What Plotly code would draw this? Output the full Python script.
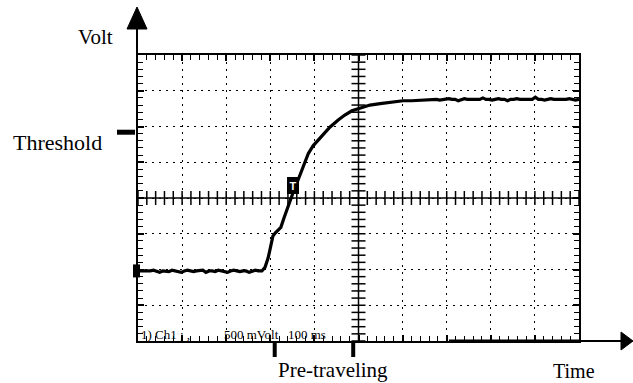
import plotly.graph_objects as go

# ---- data (time in ms, voltage in V relative to screen centre) ----
base_t = [0, 7, 14, 21, 28, 35, 42, 49, 56, 63, 70, 77, 84, 91, 98, 105, 112, 119, 126, 133,
          140, 147, 154, 161, 168, 175, 182, 189, 196, 203, 210, 217, 224, 231, 238, 245, 252,
          259, 266, 273, 281]
base_v = [-1.02, -1.02, -1.03, -1.02, -1.02, -1.01, -1.02, -1.04, -1.02, -1.02, -1.03, -1.01,
          -1.02, -1.02, -1.04, -1.02, -1.01, -1.02, -1.03, -1.02, -1.02, -1.01, -1.04, -1.02,
          -1.02, -1.03, -1.01, -1.02, -1.02, -1.04, -1.02, -1.01, -1.02, -1.03, -1.02, -1.02,
          -1.04, -1.02, -1.01, -1.02, -1.02]
rise_t = [288, 295, 299, 306, 311, 318, 324, 331, 338, 345, 352, 361, 367, 376, 386, 397,
          408, 422, 435, 454, 469, 485, 503, 526, 549, 576, 601, 620, 640, 662]
rise_v = [-0.97, -0.84, -0.73, -0.53, -0.49, -0.45, -0.41, -0.28, -0.15, -0.03, 0.08, 0.22,
          0.31, 0.46, 0.62, 0.73, 0.81, 0.91, 0.99, 1.09, 1.16, 1.22, 1.26, 1.30, 1.32, 1.34,
          1.36, 1.36, 1.37, 1.37]
plat_t = [670, 677, 684, 691, 698, 705, 712, 719, 726, 733, 740, 747, 754, 761, 768, 775,
          782, 789, 796, 803, 810, 817, 824, 831, 838, 845, 852, 859, 866, 873, 880, 887,
          894, 901, 908, 915, 922, 929, 936, 943, 950, 957, 964, 971, 978, 985, 992, 1000]
plat_v = [1.38, 1.38, 1.37, 1.38, 1.38, 1.39, 1.38, 1.38, 1.36, 1.38, 1.39, 1.38, 1.38,
          1.37, 1.38, 1.38, 1.40, 1.38, 1.38, 1.37, 1.38, 1.39, 1.38, 1.38, 1.36, 1.38,
          1.38, 1.39, 1.38, 1.38, 1.38, 1.37, 1.38, 1.41, 1.38, 1.38, 1.37, 1.38, 1.39,
          1.38, 1.38, 1.37, 1.38, 1.38, 1.39, 1.38, 1.37, 1.38]

trig_t, trig_v = 351, 0.18          # "T" trigger marker
threshold_v = 0.92                  # threshold level
baseline_v = -1.02                  # channel ground marker
pretravel_t = [310, 488]            # pre-traveling interval marks
x_range = [0, 1000]
y_range = [-2, 2]
x_div, y_div = 100, 0.5
x_minor, y_minor = 20, 0.1
scope_labels = ["1) Ch1 ; ,", "500 mVolt", "100 ms"]
scope_label_px = [139, 222, 286]

t = base_t + rise_t + plat_t
v = base_v + rise_v + plat_v

W, H = 633, 383
ML, MR, MT, MB = 138, 54, 55, 42
PW, PH = W - ML - MR, H - MT - MB


def px_x(px):  # pixel -> paper
    return (px - ML) / PW


def px_y(py):
    return (H - MB - py) / PH


def dx_paper(tv):
    return (tv - x_range[0]) / (x_range[1] - x_range[0])


def dy_paper(vv):
    return (vv - y_range[0]) / (y_range[1] - y_range[0])


fig = go.Figure()

# centre cross ticks
xc = (x_range[0] + x_range[1]) / 2
yc = (y_range[0] + y_range[1]) / 2
nx = int(round((x_range[1] - x_range[0]) / x_minor))
ny = int(round((y_range[1] - y_range[0]) / y_minor))
fig.add_trace(go.Scatter(x=[x_range[0] + i * x_minor for i in range(nx + 1)], y=[yc] * (nx + 1),
                         mode="markers", hoverinfo="skip",
                         marker=dict(symbol="line-ns", size=10, line=dict(width=1.5, color="black"))))
fig.add_trace(go.Scatter(x=[xc] * (ny + 1), y=[y_range[0] + i * y_minor for i in range(ny + 1)],
                         mode="markers", hoverinfo="skip",
                         marker=dict(symbol="line-ew", size=10, line=dict(width=1.5, color="black"))))

# signal
fig.add_trace(go.Scatter(x=t, y=v, mode="lines", line=dict(color="black", width=3.2),
                         hoverinfo="skip"))

shapes = []
# centre lines
shapes.append(dict(type="line", xref="x", yref="paper", x0=xc, x1=xc, y0=0, y1=1,
                   line=dict(color="black", width=1.5)))
shapes.append(dict(type="line", xref="paper", yref="y", x0=0, x1=1, y0=yc, y1=yc,
                   line=dict(color="black", width=1.5)))
# vertical axis arrow
shapes.append(dict(type="line", xref="paper", yref="paper", x0=px_x(137), x1=px_x(137),
                   y0=1, y1=px_y(27), line=dict(color="black", width=2)))
shapes.append(dict(type="path", xref="paper", yref="paper",
                   path=f"M {px_x(137)},{px_y(7)} L {px_x(127)},{px_y(29)} L {px_x(147)},{px_y(29)} Z",
                   fillcolor="black", line=dict(color="black", width=1)))
# horizontal axis arrow
shapes.append(dict(type="line", xref="paper", yref="paper", x0=1, x1=px_x(624),
                   y0=0, y1=0, line=dict(color="black", width=2)))
shapes.append(dict(type="path", xref="paper", yref="paper",
                   path=f"M {px_x(633)},{px_y(341)} L {px_x(621)},{px_y(332)} L {px_x(621)},{px_y(350)} Z",
                   fillcolor="black", line=dict(color="black", width=1)))
# thicker bottom segment
shapes.append(dict(type="line", xref="paper", yref="paper", x0=dx_paper(705), x1=1,
                   y0=0, y1=0, line=dict(color="black", width=3)))
# threshold dash
shapes.append(dict(type="rect", xref="paper", yref="paper",
                   x0=px_x(117), x1=px_x(135),
                   y0=dy_paper(threshold_v) - 2.5 / PH, y1=dy_paper(threshold_v) + 2.5 / PH,
                   fillcolor="black", line=dict(width=0)))
# channel ground marker
shapes.append(dict(type="rect", xref="paper", yref="paper",
                   x0=px_x(133), x1=px_x(140),
                   y0=dy_paper(baseline_v) - 6.5 / PH, y1=dy_paper(baseline_v) + 6.5 / PH,
                   fillcolor="black", line=dict(width=0)))
# pre-traveling marks
for pt in pretravel_t:
    shapes.append(dict(type="rect", xref="paper", yref="paper",
                       x0=dx_paper(pt) - 2 / PW, x1=dx_paper(pt) + 2 / PW,
                       y0=px_y(357), y1=0,
                       fillcolor="black", line=dict(width=0)))

serif = "Liberation Serif"
annotations = [
    dict(text="Volt", xref="paper", yref="paper", x=px_x(95), y=px_y(37),
         xanchor="center", yanchor="middle", showarrow=False,
         font=dict(family=serif, size=21, color="black")),
    dict(text="Threshold", xref="paper", yref="paper", x=px_x(104), y=px_y(142),
         xanchor="right", yanchor="middle", showarrow=False,
         font=dict(family=serif, size=22, color="black")),
    dict(text="Pre-traveling", xref="paper", yref="paper", x=px_x(276), y=px_y(370),
         xanchor="left", yanchor="middle", showarrow=False,
         font=dict(family=serif, size=21, color="black")),
    dict(text="Time", xref="paper", yref="paper", x=px_x(551), y=px_y(371),
         xanchor="left", yanchor="middle", showarrow=False,
         font=dict(family=serif, size=20, color="black")),
    dict(text="<b>T</b>", x=trig_t, y=trig_v, xref="x", yref="y",
         xanchor="center", yanchor="middle", showarrow=False,
         bgcolor="black", bordercolor="black", borderpad=1, borderwidth=1.5,
         font=dict(family="Liberation Sans", size=11, color="white")),
]
for lab, lpx in zip(scope_labels, scope_label_px):
    annotations.append(dict(text=lab, xref="paper", yref="paper", x=px_x(lpx), y=px_y(334),
                            xanchor="left", yanchor="middle", showarrow=False,
                            font=dict(family=serif, size=13, color="black")))

axis_common = dict(showgrid=True, gridcolor="black", gridwidth=1.3, griddash="2px,5px",
                   showline=True, linecolor="black", linewidth=2, mirror="ticks",
                   ticks="inside", ticklen=6, tickwidth=1.5, tickcolor="black",
                   showticklabels=False, zeroline=False, fixedrange=True)

fig.update_layout(
    width=W, height=H,
    margin=dict(l=ML, r=MR, t=MT, b=MB),
    paper_bgcolor="white", plot_bgcolor="white",
    showlegend=False,
    shapes=shapes,
    annotations=annotations,
    xaxis=dict(range=x_range, dtick=x_div, tick0=x_range[0],
               minor=dict(dtick=x_minor, ticks="inside", ticklen=5, tickwidth=1.2,
                          tickcolor="black", showgrid=False),
               **axis_common),
    yaxis=dict(range=y_range, dtick=y_div, tick0=y_range[0],
               minor=dict(dtick=y_minor, ticks="inside", ticklen=5, tickwidth=1.2,
                          tickcolor="black", showgrid=False),
               **axis_common),
)

fig.write_html("out.html", config={"displayModeBar": False},
               post_script="document.body.style.margin='0px';document.body.style.overflow='hidden';")
